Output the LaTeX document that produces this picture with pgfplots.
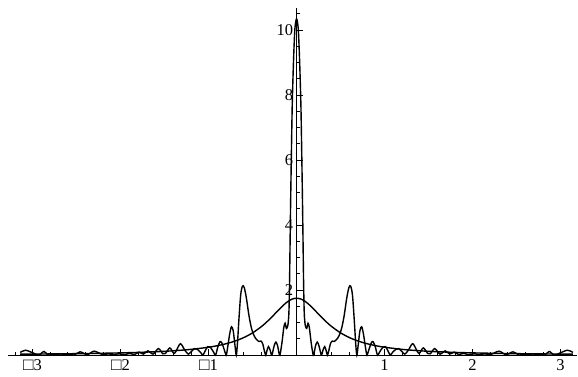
\documentclass[border=0pt]{standalone}
\usepackage{fontspec}
\setmainfont{Liberation Serif}
\usepackage{pgfplots}
\pgfplotsset{compat=1.18}
\usepackage{pgfplotstable}

\pgfplotstableread{
x y
-3.140 0.08
-3.080 0.15
-2.990 0.06
-2.930 0.0
-2.870 0.11
-2.820 0.0
-2.760 0.02
-2.680 0.0
-2.600 0.03
-2.530 0.0
-2.460 0.10
-2.380 0.01
-2.300 0.12
-2.200 0.01
-2.140 0.04
-2.080 0.01
-2.020 0.04
-1.960 0.01
-1.900 0.05
-1.840 0.02
-1.790 0.09
-1.740 0.03
-1.690 0.13
-1.630 0.03
-1.570 0.20
-1.520 0.04
-1.490 0.05
-1.440 0.22
-1.395 0.05
-1.370 0.12
-1.320 0.35
-1.270 0.15
-1.230 0.03
-1.200 0.10
-1.160 0.20
-1.130 0.18
-1.090 0.08
-1.065 0.0
-1.040 0.12
-1.010 0.26
-0.975 0.22
-0.945 0.10
-0.920 0.0
-0.895 0.25
-0.870 0.41
-0.850 0.38
-0.820 0.15
-0.800 0.0
-0.785 0.20
-0.760 0.65
-0.740 0.87
-0.720 0.75
-0.700 0.30
-0.685 0.0
-0.672 0.35
-0.655 1.10
-0.635 1.85
-0.615 2.12
-0.595 2.08
-0.570 1.75
-0.540 1.20
-0.510 0.80
-0.480 0.58
-0.455 0.48
-0.430 0.42
-0.405 0.43
-0.385 0.35
-0.365 0.12
-0.350 0.0
-0.338 0.12
-0.320 0.26
-0.300 0.15
-0.285 0.0
-0.275 0.05
-0.255 0.28
-0.235 0.40
-0.215 0.28
-0.195 0.0
-0.185 0.05
-0.165 0.40
-0.145 0.85
-0.130 0.98
-0.115 0.82
-0.100 0.90
-0.090 1.15
-0.085 1.5
-0.080 2.2
-0.075 3.2
-0.068 4.6
-0.060 6.0
-0.050 7.6
-0.040 8.6
-0.030 9.4
-0.020 10.0
-0.010 10.25
0.000 10.35
0.010 10.25
0.020 10.0
0.030 9.4
0.040 8.6
0.050 7.6
0.060 6.0
0.068 4.6
0.075 3.2
0.080 2.2
0.085 1.5
0.090 1.15
0.100 0.90
0.115 0.82
0.130 0.98
0.145 0.85
0.165 0.40
0.185 0.05
0.195 0.0
0.215 0.28
0.235 0.40
0.255 0.28
0.275 0.05
0.285 0.0
0.300 0.15
0.320 0.26
0.338 0.12
0.350 0.0
0.365 0.12
0.385 0.35
0.405 0.43
0.430 0.42
0.455 0.48
0.480 0.58
0.510 0.80
0.540 1.20
0.570 1.75
0.595 2.08
0.615 2.12
0.635 1.85
0.655 1.10
0.672 0.35
0.685 0.0
0.700 0.30
0.720 0.75
0.740 0.87
0.760 0.65
0.785 0.20
0.800 0.0
0.820 0.15
0.850 0.38
0.870 0.41
0.895 0.25
0.920 0.0
0.945 0.10
0.975 0.22
1.010 0.26
1.040 0.12
1.065 0.0
1.090 0.08
1.130 0.18
1.160 0.20
1.200 0.10
1.230 0.03
1.270 0.15
1.320 0.35
1.370 0.12
1.395 0.05
1.440 0.22
1.490 0.05
1.520 0.04
1.570 0.20
1.630 0.03
1.690 0.13
1.740 0.03
1.790 0.09
1.840 0.02
1.900 0.05
1.960 0.01
2.020 0.04
2.080 0.01
2.140 0.04
2.200 0.01
2.300 0.12
2.380 0.01
2.460 0.10
2.530 0.0
2.600 0.03
2.680 0.0
2.760 0.02
2.820 0.0
2.870 0.11
2.930 0.0
2.990 0.06
3.080 0.15
3.140 0.08
}\osc

\pgfplotstableread{
x y
-3.14 0.0279
-2.9 0.0327
-2.6 0.0405
-2.3 0.0514
-2.0 0.0673
-1.8 0.0824
-1.6 0.1029
-1.4 0.1321
-1.2 0.1750
-1.0 0.2414
-0.9 0.2887
-0.8 0.3500
-0.7 0.4308
-0.6 0.5385
-0.5 0.6829
-0.4 0.8750
-0.35 0.9912
-0.3 1.1200
-0.25 1.2584
-0.2 1.4000
-0.15 1.5342
-0.1 1.6471
-0.05 1.7231
0.0 1.7500
0.05 1.7231
0.1 1.6471
0.15 1.5342
0.2 1.4000
0.25 1.2584
0.3 1.1200
0.35 0.9912
0.4 0.8750
0.5 0.6829
0.6 0.5385
0.7 0.4308
0.8 0.3500
0.9 0.2887
1.0 0.2414
1.2 0.1750
1.4 0.1321
1.6 0.1029
1.8 0.0824
2.0 0.0673
2.3 0.0514
2.6 0.0405
2.9 0.0327
3.14 0.0279
}\lor

\begin{document}
\begin{tikzpicture}
\begin{axis}[
  scale only axis,
  width=569.4pt, height=347.1pt,
  xmin=-3.28, xmax=3.19, ymin=0, ymax=10.68,
  axis x line=bottom, axis y line=middle,
  axis line style={-, black, line width=0.8pt},
  xtick={-3,-2,-1,1,2,3},
  xticklabels={{\raisebox{-0.3pt}{\scalebox{1.05}{□}}3},{\raisebox{-0.3pt}{\scalebox{1.05}{□}}2},{\raisebox{-0.3pt}{\scalebox{1.05}{□}}1},1,2,3},
  ytick={2,4,6,8,10},
  minor xtick={-3.2,-3.0,-2.8,-2.6,-2.4,-2.2,-2.0,-1.8,-1.6,-1.4,-1.2,-1.0,-0.8,-0.6,-0.4,-0.2,0.2,0.4,0.6,0.8,1.0,1.2,1.4,1.6,1.8,2.0,2.2,2.4,2.6,2.8,3.0},
  minor ytick={0.5,1,1.5,2,2.5,3,3.5,4,4.5,5,5.5,6,6.5,7,7.5,8,8.5,9,9.5,10,10.5},
  tick align=inside,
  major tick length=6pt, minor tick length=3.5pt,
  tick style={black, line width=0.7pt},
  tick label style={font=\fontsize{16.5}{18}\selectfont, text=black},
  xticklabel style={yshift=-1pt},
  /pgf/number format/assume math mode=true,
  clip=false,
]
\addplot[black, line width=1.4pt, smooth, tension=0.5] table[x=x,y=y] {\lor};
\addplot[black, line width=1.4pt, smooth, tension=0.5] table[x=x,y=y] {\osc};
\coordinate (bl) at (axis cs:-3.37,-0.646);
\coordinate (tr) at (axis cs:3.198,10.926);
\end{axis}
\pgfresetboundingbox
\path[use as bounding box] (bl) rectangle (tr);
\end{tikzpicture}
\end{document}
